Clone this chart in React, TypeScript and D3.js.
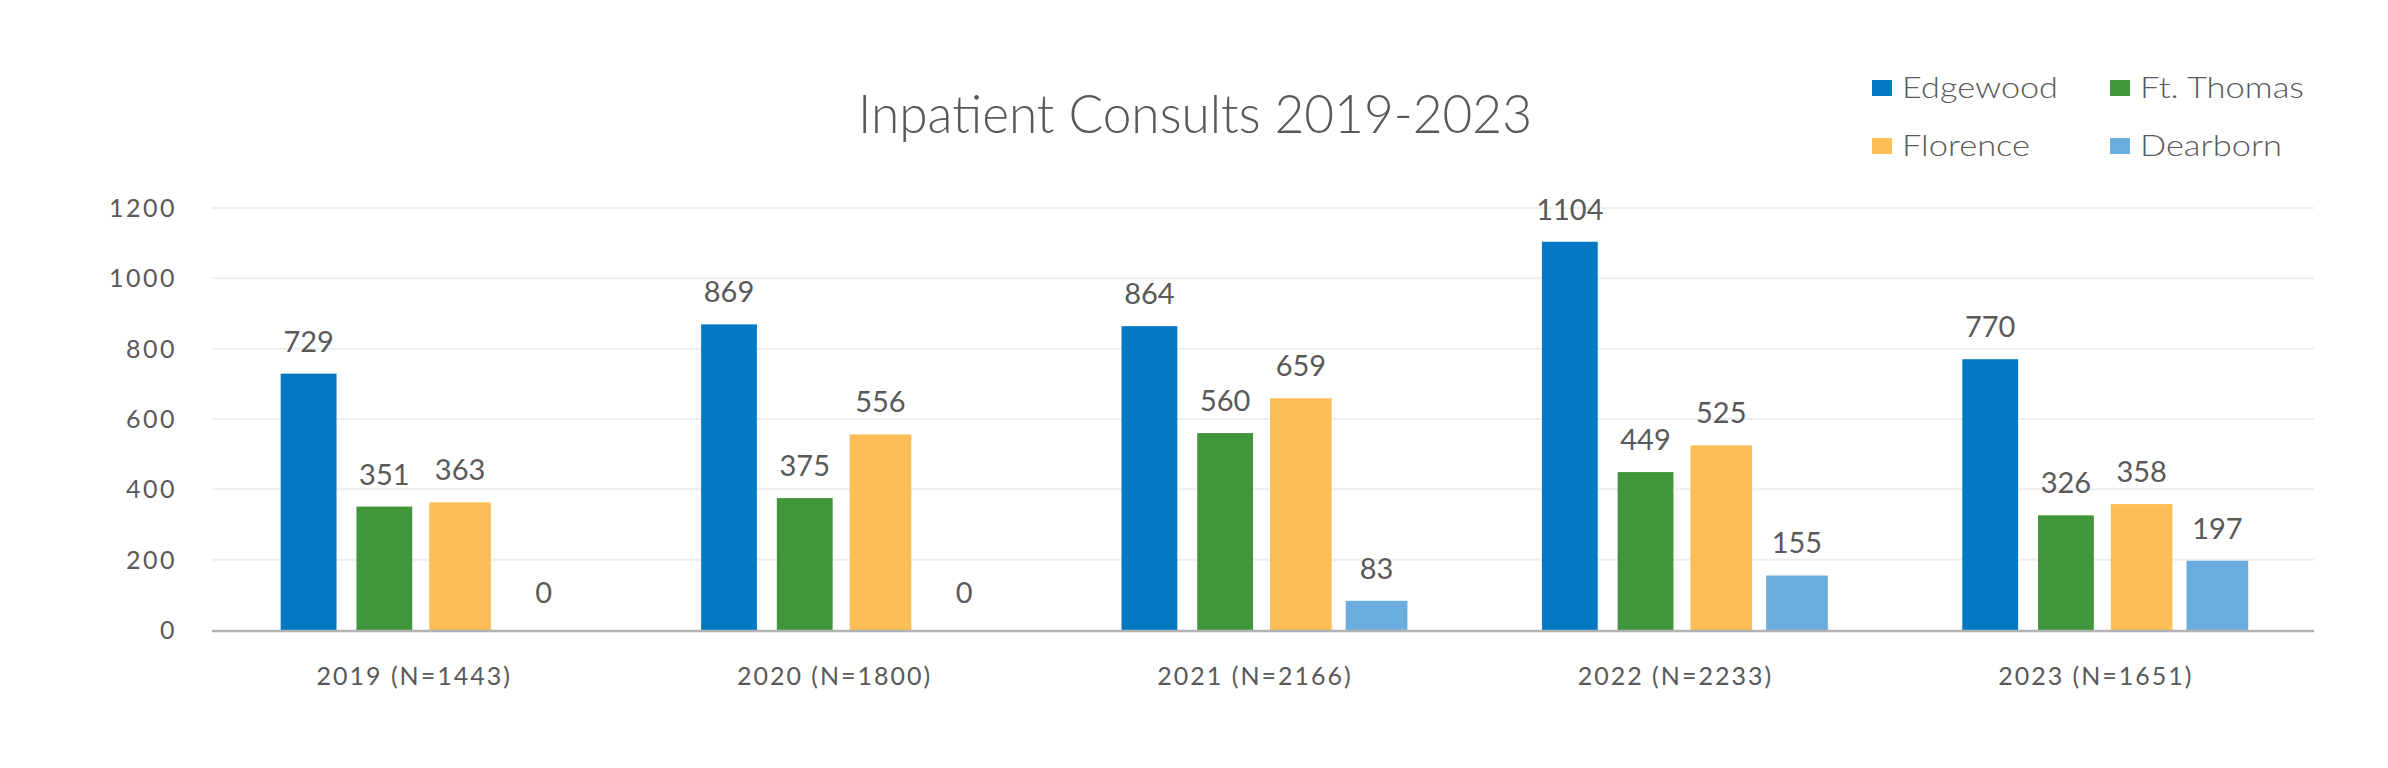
import React from 'react';
import * as d3 from 'd3';

const categories = ['2019 (N=1443)', '2020 (N=1800)', '2021 (N=2166)', '2022 (N=2233)', '2023 (N=1651)'];
const seriesNames = ['Edgewood', 'Ft. Thomas', 'Florence', 'Dearborn'];
const edgewood = [729, 869, 864, 1104, 770];
const ftThomas = [351, 375, 560, 449, 326];
const florence = [363, 556, 659, 525, 358];
const dearborn = [0, 0, 83, 155, 197];
const yTicks = [0, 200, 400, 600, 800, 1000, 1200];
const title = 'Inpatient Consults 2019-2023';

const seriesValues = [edgewood, ftThomas, florence, dearborn];
const colors = ['#0279c2', '#41953b', '#fdbe58', '#6caddf'];
const widthFactor = [0.95, 0.95, 1.05, 1.05];
const legendTextLen = [156, 164, 128, 142];
const TEXT = '#595959';
const FONT = 'Lato, "Open Sans", sans-serif';

export default function App() {
  const W = 2388, H = 768;
  const left = 212, right = 2314, top = 208, bottom = 630;
  const x0 = d3.scaleBand<string>().domain(categories).range([left, right]).padding(0);
  const x1 = d3.scaleBand<number>().domain(d3.range(seriesNames.length))
    .range([0, x0.bandwidth()]).paddingInner(0.224).paddingOuter(0.888);
  const y = d3.scaleLinear().domain([0, 1200]).range([bottom, top]);

  const legendPos = [
    { x: 1872, y: 80 }, { x: 2110, y: 80 }, { x: 1872, y: 138 }, { x: 2110, y: 138 },
  ];

  return (
    <svg width={W} height={H} style={{ position: 'absolute', left: 0, top: 0, background: '#fff' }}
      fontFamily={FONT} fontWeight={400}>
      <rect x={0} y={0} width={W} height={H} fill="#fff" />
      <text x={1195} y={133} textAnchor="middle" fontSize={54} fontWeight={300} fill={TEXT} textLength={674}
        lengthAdjust="spacingAndGlyphs">{title}</text>

      {legendPos.map((p, i) => (
        <g key={i}>
          <rect x={p.x} y={p.y} width={20} height={16} fill={colors[i]} />
          <text x={p.x + 30} y={p.y + 18} fontSize={30} fontWeight={300} fill={TEXT} textLength={legendTextLen[i]}
            lengthAdjust="spacingAndGlyphs">{seriesNames[i]}</text>
        </g>
      ))}

      {yTicks.filter(t => t > 0).map(t => (
        <line key={t} x1={left} x2={right} y1={y(t)} y2={y(t)} stroke="#eeeeee" strokeWidth={2} />
      ))}
      {yTicks.map(t => (
        <text key={'l' + t} x={177} y={y(t) + 9} textAnchor="end" fontSize={25} fill={TEXT}
          letterSpacing={2.5}>{t}</text>
      ))}

      {categories.map((c, ci) => (
        <g key={c}>
          {seriesValues.map((vals, si) => {
            const v = vals[ci];
            const cx = (x0(c) as number) + (x1(si) as number) + x1.bandwidth() / 2;
            const bw = x1.bandwidth() * widthFactor[si];
            return (
              <g key={si}>
                {v > 0 && (
                  <rect x={cx - bw / 2} y={y(v)} width={bw} height={y(0) - y(v)} fill={colors[si]} />
                )}
                <text x={cx + (v === 0 ? 8 : 0)} y={y(v) - (v === 0 ? 27 : 22)} textAnchor="middle"
                  fontSize={29} fill={TEXT}>{v}</text>
              </g>
            );
          })}
          <text x={(x0(c) as number) + x0.bandwidth() / 2 - 8} y={685} textAnchor="middle" fontSize={25}
            fill={TEXT} letterSpacing={2}>{c}</text>
        </g>
      ))}

      <line x1={left} x2={right} y1={y(0) + 1} y2={y(0) + 1} stroke="#b3b3b3" strokeWidth={2.5} />
    </svg>
  );
}
